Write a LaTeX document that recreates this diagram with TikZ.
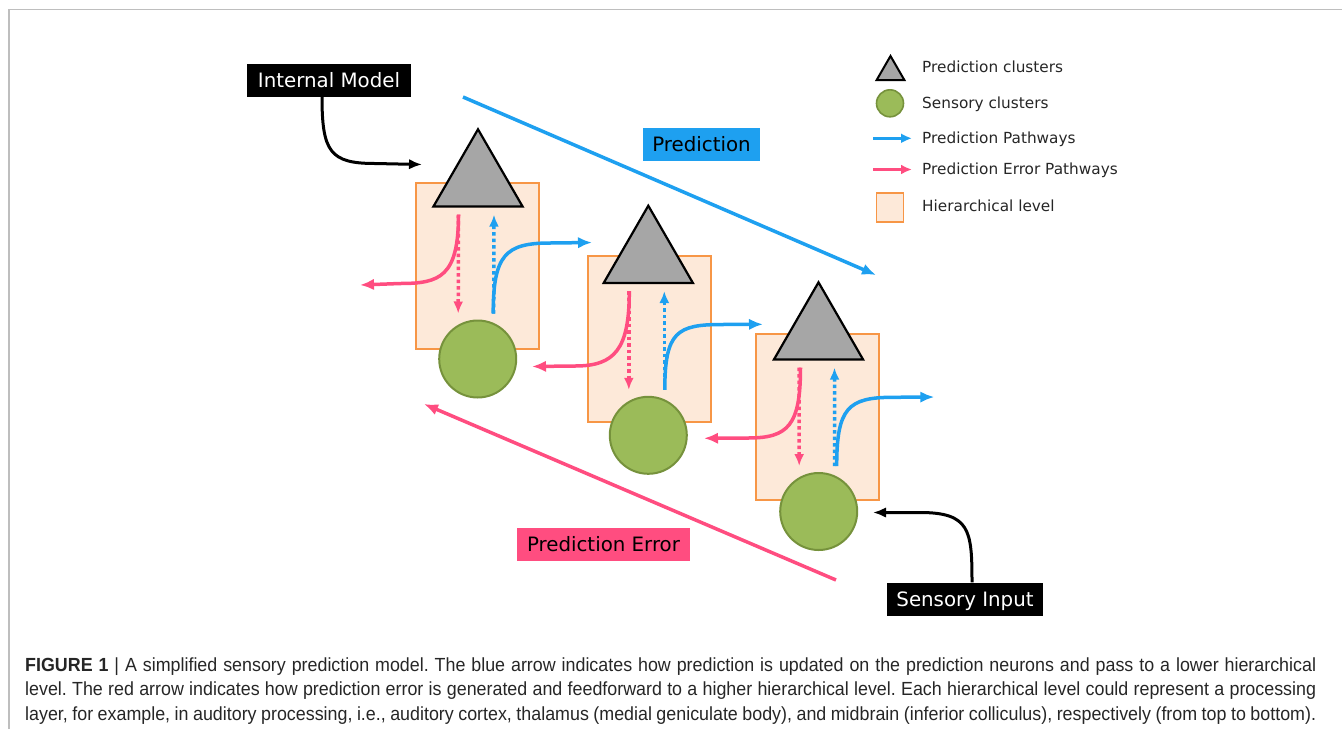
\documentclass[tikz,border=0pt]{standalone}
\usepackage{fontspec}
\setmainfont{DejaVu Sans}
\newfontfamily\capfont[FakeStretch=0.94]{Liberation Sans}
\usetikzlibrary{arrows.meta,shapes.geometric,calc}

\definecolor{predblue}{RGB}{30,160,240}
\definecolor{errpink}{RGB}{255,77,128}
\definecolor{levelfill}{RGB}{253,233,217}
\definecolor{levelline}{RGB}{247,150,70}
\definecolor{sensefill}{RGB}{155,187,89}
\definecolor{senseline}{RGB}{118,146,60}
\definecolor{predgray}{RGB}{166,166,166}
\definecolor{framegray}{RGB}{190,190,190}

\begin{document}
\frenchspacing
\begin{tikzpicture}[x=1pt,y=-1pt,
level box/.style={rectangle,draw=levelline,fill=levelfill,line width=2pt,inner sep=0pt,minimum width=123pt,minimum height=166pt},
pred node/.style={regular polygon,regular polygon sides=3,draw=black,fill=predgray,line width=2.2pt,inner sep=0pt,minimum size=103pt},
sense node/.style={circle,draw=senseline,fill=sensefill,line width=2pt,inner sep=0pt,minimum size=77pt},
blue path/.style={draw=predblue,line width=3.5pt,-{Latex[length=14pt,width=11.5pt]}},
pink path/.style={draw=errpink,line width=3.5pt,-{Latex[length=14pt,width=11.5pt]}},
blue dots/.style={blue path,dash pattern=on 3.5pt off 3pt,-{Latex[length=12pt,width=10pt]}},
pink dots/.style={pink path,dash pattern=on 3.5pt off 3pt,-{Latex[length=12pt,width=10pt]}},
black path/.style={draw=black,line width=3pt,-{Latex[length=13pt,width=10.5pt]}},
tag/.style={font=\fontsize{19.8}{23}\selectfont,inner sep=0pt,minimum height=33pt,text height=14.4pt,text depth=0pt},
key text/.style={anchor=base west,font=\fontsize{15.3}{18}\selectfont,inner sep=0pt,text=black!85},
cap line/.style={anchor=base west,inner sep=0pt,font=\capfont\fontsize{19}{22}\selectfont,text=black!85}]
\useasboundingbox (0,0) rectangle (1342,729);
\draw[framegray,line width=1.5pt] (9,729) -- (9,9.5) -- (1342,9.5);

% hierarchical levels
\node [level box] (l1) at (477.5,266) {};
\node [level box] (l2) at (649,339) {};
\node [level box] (l3) at (817.5,417) {};
\node [pred node] (t1) at (478,180.8) {};
\node [pred node] (t2) at (648.3,257.2) {};
\node [pred node] (t3) at (818.5,333.8) {};
\node [sense node] (c1) at (477.7,359) {};
\node [sense node] (c2) at (648.3,435.3) {};
\node [sense node] (c3) at (818.7,511.5) {};

% free ends
\coordinate (e1) at (360,285);
\coordinate (e2) at (532,366.5);
\coordinate (e3) at (704,438.3);
\coordinate (b1) at (592,242.5);
\coordinate (b2) at (763,324.3);
\coordinate (b3) at (934.3,397);

% inside each level
\foreach \i in {1,2,3}{
  \draw[pink dots] ($(t\i.south)+(-19.5,7)$) -- ($(c\i.north)+(-19.5,-6)$);
  \draw[blue dots] ($(c\i.north)+(16,-6)$) -- ($(t\i.south)+(16,7)$);
}

% between levels
\draw[pink path] ($(t1.south)+(-19.5,7)$) .. controls +(0,62) and +(40,0) .. (400,283.5) -- (e1);
\draw[pink path] ($(t2.south)+(-19,7)$) .. controls +(0,58) and +(40,0) .. (575,366) -- (e2);
\draw[pink path] ($(t3.south)+(-18,7)$) .. controls +(0,58) and +(40,0) .. (748,438) -- (e3);
\draw[blue path] ($(c1.north)+(15.5,-6)$) .. controls +(0,-58) and +(-45,0) .. (550,243) -- (b1);
\draw[blue path] ($(c2.north)+(16.5,-6)$) .. controls +(0,-58) and +(-45,0) .. (722,324.5) -- (b2);
\draw[blue path] ($(c3.north)+(18,-6)$) .. controls +(0,-58) and +(-45,0) .. (893,397.3) -- (b3);

% overall prediction and error
\coordinate (pa) at (463,97);
\coordinate (pb) at (876,275);
\coordinate (ea) at (836,580);
\coordinate (eb) at (424,404);
\draw[blue path] (pa) -- (pb);
\draw[pink path] (ea) -- (eb);

% labels
\node [tag,fill=black,text=white,minimum width=164pt] (im) at (329,80) {Internal Model};
\node [tag,fill=predblue,minimum width=117pt] (pr) at (701.5,144) {Prediction};
\node [tag,fill=errpink,minimum width=173pt] (pe) at (603.5,544) {Prediction Error};
\node [tag,fill=black,text=white,minimum width=156pt] (si) at (965,599) {Sensory Input};
\coordinate (tm) at (422,164.5);
\coordinate (ts) at (873,512.5);
\draw[black path] ([xshift=-7pt]im.south) .. controls +(0,55) and +(-45,0) .. (375,163.5) -- (tm);
\draw[black path] ([xshift=7pt]si.north) .. controls +(0,-52) and +(50,0) .. (920,512.5) -- (ts);

% legend
\node [pred node,minimum size=32pt,line width=2pt] (kt) at (890.5,72) {};
\node [sense node,minimum size=27pt,line width=1.6pt] (kc) at (890,103.3) {};
\coordinate (kb1) at (873,138.3);
\coordinate (kb2) at (912,138.3);
\coordinate (kp1) at (873,169.5);
\coordinate (kp2) at (912,169.5);
\draw[blue path,line width=3pt,-{Latex[length=11pt,width=10pt]}] (kb1) -- (kb2);
\draw[pink path,line width=3pt,-{Latex[length=11pt,width=10pt]}] (kp1) -- (kp2);
\node [level box,minimum width=27pt,minimum height=29pt,line width=1.8pt] (kl) at (890,207.8) {};
\node [key text] (kt text) at (922,72.8) {Prediction clusters};
\node [key text] (kc text) at (922,108.2) {Sensory clusters};
\node [key text] (kb text) at (922,143.8) {Prediction Pathways};
\node [key text] (kp text) at (922,174.5) {Prediction Error Pathways};
\node [key text] (kl text) at (922,211.5) {Hierarchical level};

% caption
\node [cap line] (cap1) at (25,671) {\hbox to 1291pt{\textbf{FIGURE 1} | A simplified sensory prediction model. The blue arrow indicates how prediction is updated on the prediction neurons and pass to a lower hierarchical}};
\node [cap line] (cap2) at (25,695.5) {\hbox to 1291pt{level. The red arrow indicates how prediction error is generated and feedforward to a higher hierarchical level. Each hierarchical level could represent a processing}};
\node [cap line] (cap3) at (25,720) {\hbox to 1291pt{layer, for example, in auditory processing, i.e., auditory cortex, thalamus (medial geniculate body), and midbrain (inferior colliculus), respectively (from top to bottom).}};
\end{tikzpicture}
\end{document}
